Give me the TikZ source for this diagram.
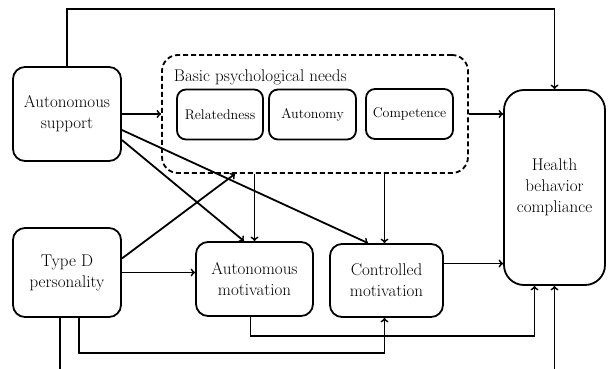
\documentclass[tikz,border=0pt]{standalone}
\usepackage{tikz}
\usetikzlibrary{positioning,arrows}

\begin{document}
\begin{tikzpicture}[x=1pt,y=-1pt,line width=1.8pt,>=to,
	box/.style={draw,rounded corners=12pt,inner sep=0pt,align=center,font=\fontsize{17}{21}\selectfont},
	need/.style={draw,rounded corners=9pt,inner sep=0pt,minimum height=50pt,font=\fontsize{14}{17}\selectfont}]
	\useasboundingbox (0,0) rectangle (610,369);
	\node[box,minimum width=108pt,minimum height=94pt] (sup) at (67,114) {Autonomous\\support};
	\node[box,minimum width=108pt,minimum height=89pt] (typd) at (67,272.5) {Type D\\personality};
	\node[box,minimum width=117pt,minimum height=74pt] (amot) at (254.5,279) {Autonomous\\motivation};
	\node[box,minimum width=113pt,minimum height=73pt] (cmot) at (386.5,280.5) {Controlled\\motivation};
	\node[box,minimum width=101pt,minimum height=195pt,rounded corners=20pt] (hbc) at (554.5,187.5) {Health\\behavior\\compliance};
	\node[draw,dash pattern=on 5pt off 3pt,rounded corners=16pt,minimum width=306pt,minimum height=118pt] (needs) at (315,114) {};
	\node[anchor=west,inner sep=0pt,font=\fontsize{17}{20}\selectfont] (title) at (173,77) {Basic psychological needs};
	\node[need,minimum width=86pt] (rel) at (220,114.5) {Relatedness};
	\node[need,minimum width=87pt] (aut) at (312.5,114.5) {Autonomy};
	\node[need,minimum width=87pt] (comp) at (409.5,114) {Competence};
	\coordinate (offl) at (60,375);
	\coordinate (offr) at (554.5,375);

	\draw[->] (sup.north) -- ++(0,-57) -| (hbc.north);
	\draw[->] (sup.east) -- (needs.west);
	\draw[->] (needs.east) -- (needs.east -| hbc.west);
	\draw[->] ([yshift=-16pt]sup.east) -- ([xshift=-18.5pt]cmot.north);
	\draw[->] ([yshift=-26pt]sup.east) -- ([xshift=-10.5pt]amot.north);
	\draw[->] (amot.north |- needs.south) -- (amot.north);
	\draw[->] ([xshift=-2pt]cmot.north |- needs.south) -- ([xshift=-2pt]cmot.north);
	\draw[->] ([yshift=14pt]typd.east) -- ([xshift=-80pt]needs.south);
	\draw[->] (typd.east) -- (typd.east -| amot.west);
	\draw[->] ([yshift=17pt]cmot.east) -- ([yshift=17pt]cmot.east -| hbc.west);
	\draw[->] ([xshift=-4pt]amot.south) -- ++(0,19) -| ([xshift=-20pt]hbc.south);
	\draw[->] ([xshift=12pt]typd.south) -- ++(0,35) -| ([xshift=-2pt]cmot.south);
	\draw ([xshift=-7pt]typd.south) -- (offl);
	\draw[->] (offr) -- (hbc.south);
\end{tikzpicture}
\end{document}
